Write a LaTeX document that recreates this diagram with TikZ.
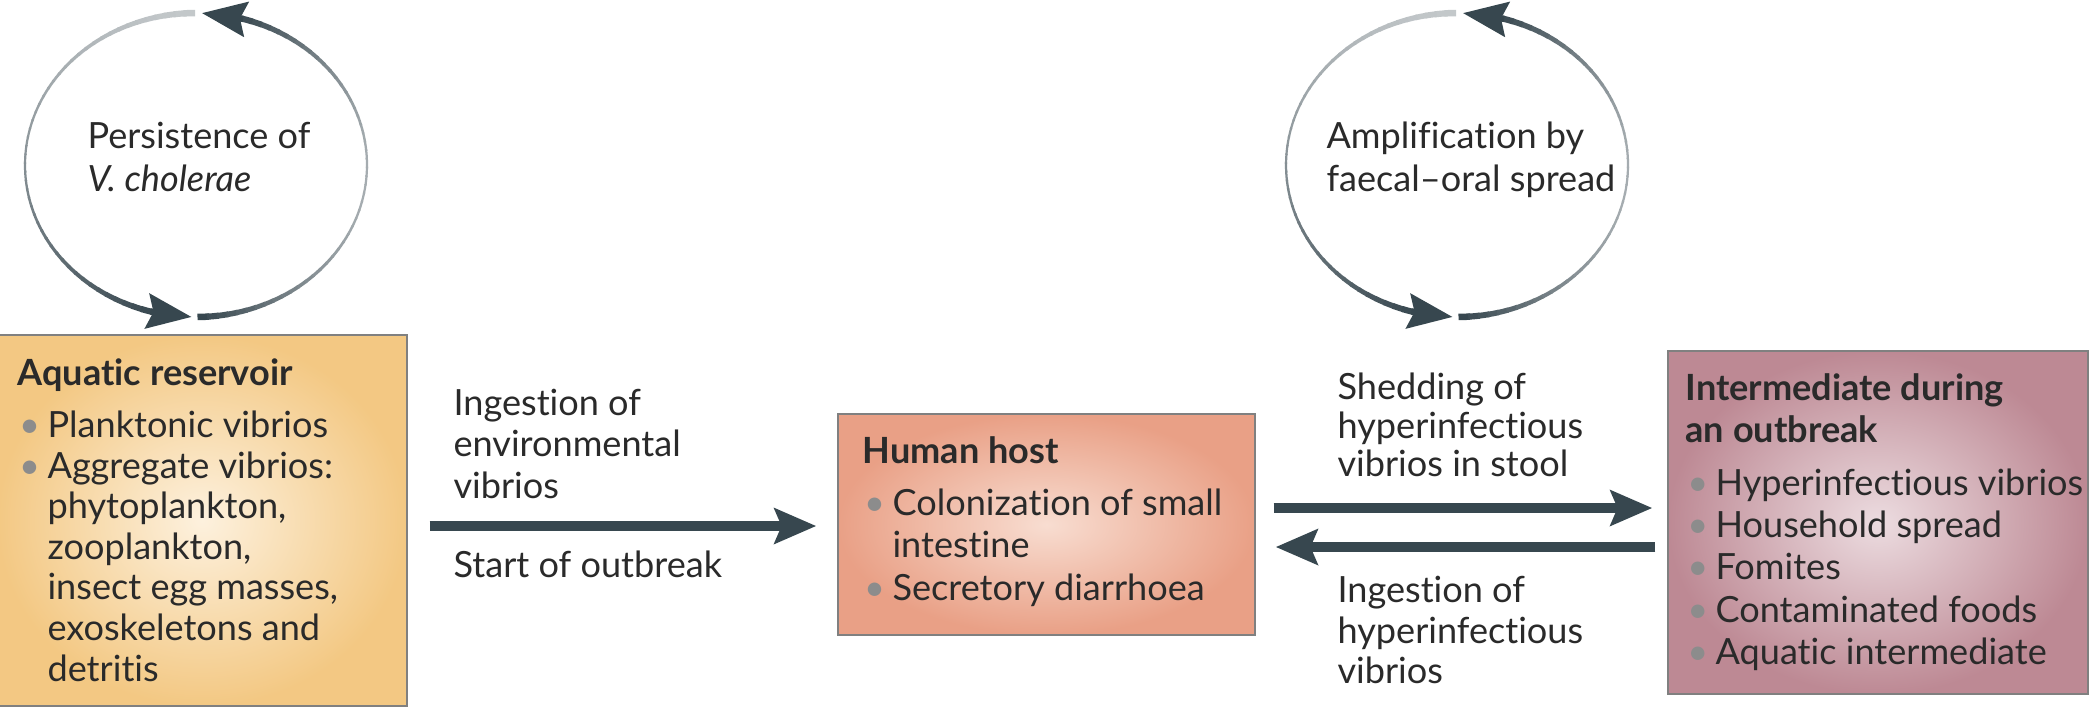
\documentclass[tikz,border=0pt]{standalone}
\usepackage{fontspec}
\setmainfont{Lato}[Ligatures=NoCommon]
\usetikzlibrary{arrows.meta}
\definecolor{ink}{HTML}{37474F}
\definecolor{txt}{HTML}{2A2A2A}
\definecolor{bul}{HTML}{8C8C8C}
\definecolor{edgec}{HTML}{808080}
\definecolor{aqIn}{HTML}{FDF1DE}
\definecolor{aqOut}{HTML}{F3C883}
\definecolor{hhIn}{HTML}{F8DDD1}
\definecolor{hhOut}{HTML}{E9A086}
\definecolor{imIn}{HTML}{ECDCE0}
\definecolor{imOut}{HTML}{BD8994}
\newcommand\bitem{\makebox[10.8pt][l]{\hspace{0.6pt}\textcolor{bul}{\textbullet}}}
\newcommand\bcont{\hspace*{10.8pt}}
\newcommand\fs[1]{\fontsize{13}{#1}\selectfont}
% cyclic arrow pair around centre (#1,#2)
\newcommand\cycarrows[2]{%
  \foreach \i in {0,...,49}{%
    \pgfmathsetmacro\ta{\i/50}%
    \pgfmathsetmacro\tb{(\i+1)/50}%
    \pgfmathsetmacro\aa{89.5-\ta*163.5}%
    \pgfmathsetmacro\ab{89.5-\tb*163.5-0.6}%
    \pgfmathsetmacro\lw{(2.2+4.3*(2*\ta-1)^2)*0.36}%
    \pgfmathtruncatemacro\pc{100-55*sin(180*\ta)}%
    \draw[line width=\lw pt, ink!\pc!white]
      ({#1+171*cos(\aa)},{#2+152*sin(\aa)})
      arc[start angle=\aa, end angle=\ab, x radius=171, y radius=152];
  }%
  \foreach \i in {0,...,49}{%
    \pgfmathsetmacro\ta{\i/50}%
    \pgfmathsetmacro\tb{(\i+1)/50}%
    \pgfmathsetmacro\aa{269.7-\ta*164.2}%
    \pgfmathsetmacro\ab{269.7-\tb*164.2-0.6}%
    \pgfmathsetmacro\lw{(2.2+4.3*(2*\ta-1)^2)*0.36}%
    \pgfmathtruncatemacro\pc{30+70*\ta^1.3}%
    \draw[line width=\lw pt, ink!\pc!white]
      ({#1+171*cos(\aa)},{#2+152*sin(\aa)})
      arc[start angle=\aa, end angle=\ab, x radius=171, y radius=152];
  }%
  \draw[cyctip] ({#1+171*cos(-74)},{#2+152*sin(-74)}) -- ({#1+171*cos(-88)},{#2+152*sin(-88)});
  \draw[cyctip] ({#1+171*cos(105.5)},{#2+152*sin(105.5)}) -- ({#1+171*cos(91.5)},{#2+152*sin(91.5)});
}
\begin{document}
\begin{tikzpicture}[x=0.36pt,y=-0.36pt,
  box/.style={draw=edgec, line width=0.5pt, rectangle, inner sep=0pt},
  txtnode/.style={anchor=north west, inner sep=0pt, align=left, text=txt},
  bigarrow/.style={ink, line width=3.6pt, -{Stealth[length=15pt, width=12.6pt, inset=2.5pt]}},
  cyctip/.style={ink, line width=2.3pt, -{Stealth[length=16pt, width=12.5pt, inset=2.2pt]}}]
\useasboundingbox (0,0) rectangle (2094,708);
\fill[white] (0,0) rectangle (2094,708);

% cycles
\cycarrows{196}{165}
\cycarrows{1457}{165}
\node[txtnode, font=\fs{15.5pt}] (pers) at (87,117.4) {\rule{0pt}{11pt}Persistence of\\\textit{V. cholerae}};
\node[txtnode, font=\fs{15.5pt}] (ampl) at (1326,117.4) {\rule{0pt}{11pt}Amplification by\\faecal–oral spread};

% boxes
\node[box, inner color=aqIn, outer color=aqOut, minimum width=147.6pt, minimum height=133.56pt] (aq) at (202,520.5) {};
\node[box, inner color=hhIn, outer color=hhOut, minimum width=150.12pt, minimum height=79.56pt] (hh) at (1046.5,524.5) {};
\node[box, inner color=imIn, outer color=imOut, minimum width=151.2pt, minimum height=123.48pt] (im) at (1878,522.5) {};

\node[txtnode, font=\fs{14.6pt}] (aqt) at (17,354.4) {\rule{0pt}{11pt}\textbf{Aquatic reservoir}\\[4.2pt]
\bitem Planktonic vibrios\\
\bitem Aggregate vibrios:\\
\bcont phytoplankton,\\
\bcont zooplankton,\\
\bcont insect egg masses,\\
\bcont exoskeletons and\\
\bcont detritis};
\node[txtnode, font=\fs{15.3pt}] (hht) at (862,432.4) {\rule{0pt}{11pt}\textbf{Human host}\\[3.4pt]
\bitem Colonization of small\\
\bcont intestine\\
\bitem Secretory diarrhoea};
\node[txtnode, font=\fs{15.2pt}] (imt) at (1685,369.4) {\rule{0pt}{11pt}\textbf{Intermediate during}\\
\textbf{an outbreak}\\[3.8pt]
\bitem Hyperinfectious vibrios\\
\bitem Household spread\\
\bitem Fomites\\
\bitem Contaminated foods\\
\bitem Aquatic intermediate};

% connectors
\draw[bigarrow] ([shift={(22,5.5)}]aq.east) -- ([shift={(-21,1.5)}]hh.west);
\draw[bigarrow] ([shift={(18,-16.5)}]hh.east) -- ([shift={(-15,-14.5)}]im.west);
\draw[bigarrow] ([shift={(-12,24.5)}]im.west) -- ([shift={(20,22.5)}]hh.east);

% labels
\node[txtnode, font=\fs{14.9pt}] (l1) at (453,384.4) {\rule{0pt}{11pt}Ingestion of\\environmental\\vibrios};
\node[txtnode, font=\fs{14.9pt}] (l2) at (453,546.4) {\rule{0pt}{11pt}Start of outbreak};
\node[txtnode, font=\fs{13.9pt}] (l3) at (1337,368.4) {\rule{0pt}{11pt}Shedding of\\hyperinfectious\\vibrios in stool};
\node[txtnode, font=\fs{14.6pt}] (l4) at (1337,571.4) {\rule{0pt}{11pt}Ingestion of\\hyperinfectious\\vibrios};
\end{tikzpicture}
\end{document}
